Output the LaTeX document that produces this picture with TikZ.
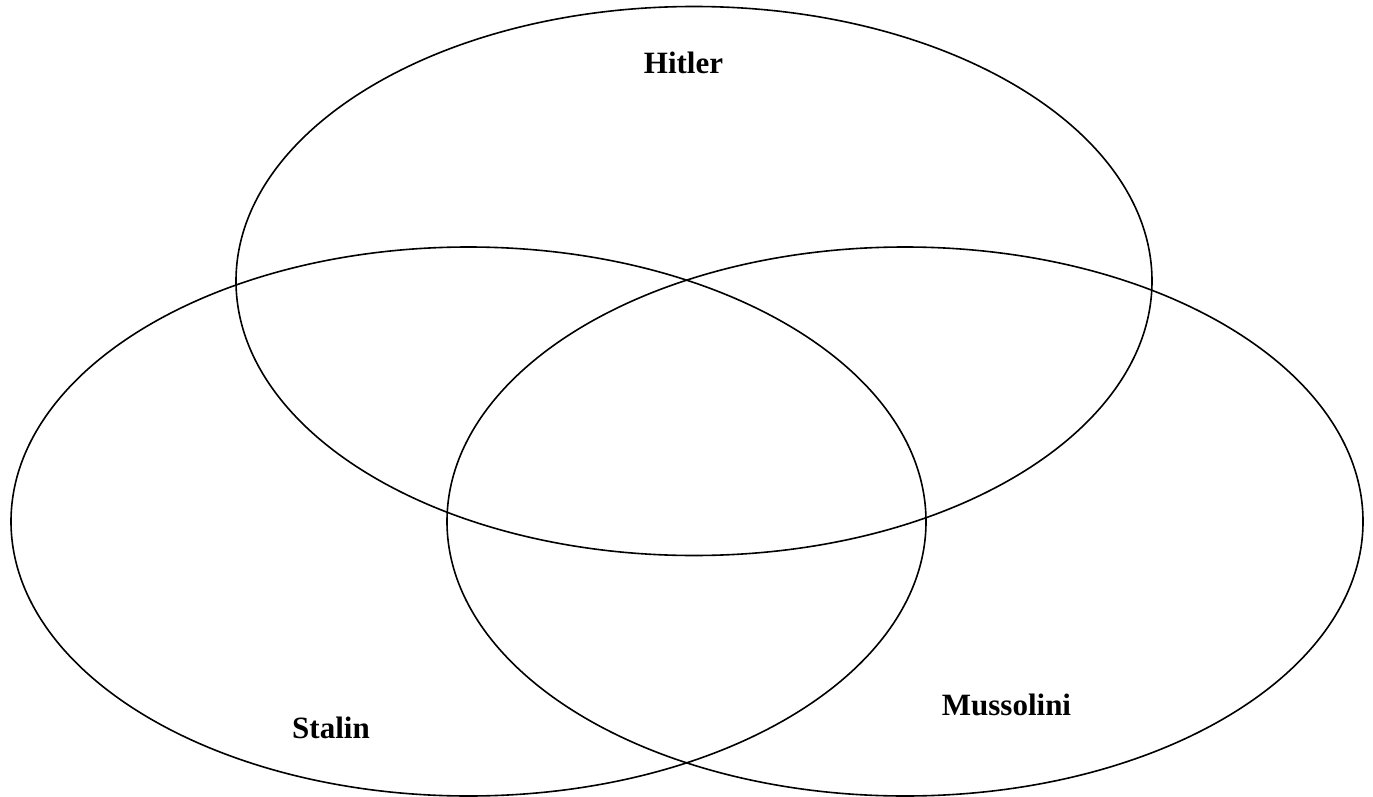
\documentclass[tikz,border=0pt]{standalone}
\usepackage{fontspec}
\setmainfont{Liberation Serif}
\usetikzlibrary{positioning}

\begin{document}
\begin{tikzpicture}[
  x=1pt,
  y=-1pt,
  set/.style={draw=black,line width=1.6pt},
  setlabel/.style={font=\fontsize{31}{37}\selectfont\bfseries,anchor=base,inner sep=0pt}
]
  \useasboundingbox (0,0) rectangle (1373,797);
  % the three sets
  \draw[set] (694,281) ellipse [x radius=458,y radius=274.5];
  \draw[set] (468.5,521.5) ellipse [x radius=457.5,y radius=274.5];
  \draw[set] (905,521.5) ellipse [x radius=458,y radius=274.5];
  % labels
  \node[setlabel] (hitler) at (683.5,74) {Hitler};
  \node[setlabel] (stalin) at (331,738) {Stalin};
  \node[setlabel] (mussolini) at (1006.5,715) {Mussolini};
\end{tikzpicture}
\end{document}
